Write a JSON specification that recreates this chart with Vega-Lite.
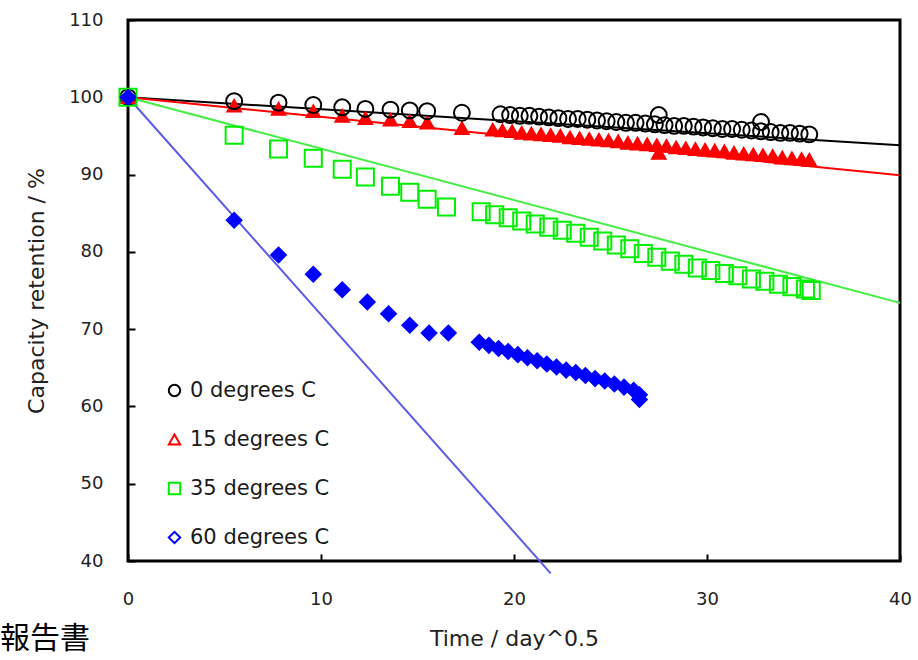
{
  "$schema": "https://vega.github.io/schema/vega-lite/v6.json",
  "width": 772,
  "height": 541,
  "autosize": {"type": "none"},
  "padding": {"left": 128, "top": 20, "right": 18, "bottom": 99},
  "background": "white",
  "config": {
    "view": {"stroke": "#000", "strokeWidth": 3},
    "font": "DejaVu Sans",
    "legend": {"symbolBaseFillColor": "transparent"},
    "axis": {
      "domain": false,
      "grid": false,
      "ticks": true,
      "tickSize": -7,
      "tickWidth": 2,
      "tickColor": "#000",
      "labelFont": "DejaVu Sans",
      "labelFontSize": 18,
      "labelColor": "#222",
      "labelFlush": false,
      "labelOverlap": false,
      "titleFont": "DejaVu Sans",
      "titleFontSize": 22,
      "titleFontWeight": "normal",
      "titleColor": "#222"
    }
  },
  "title": {
    "text": "報告書",
    "orient": "bottom",
    "anchor": "start",
    "frame": "group",
    "font": "Noto Sans CJK JP",
    "fontSize": 30,
    "fontWeight": "normal",
    "color": "#000",
    "dx": -128,
    "dy": -25,
    "offset": 0
  },
  "datasets": {
    "lines": [
      {"s": "0 degrees C", "x": 0, "y": 100}, {"s": "0 degrees C", "x": 40, "y": 93.8},
      {"s": "15 degrees C", "x": 0, "y": 100}, {"s": "15 degrees C", "x": 40, "y": 89.9},
      {"s": "35 degrees C", "x": 0, "y": 100}, {"s": "35 degrees C", "x": 40, "y": 73.4},
      {"s": "60 degrees C", "x": 0, "y": 100}, {"s": "60 degrees C", "x": 21.9, "y": 38.4}
    ],
    "pts": [
      {"s": "60 degrees C", "x": 5.5, "y": 84.1},
      {"s": "60 degrees C", "x": 7.8, "y": 79.6},
      {"s": "60 degrees C", "x": 9.6, "y": 77.1},
      {"s": "60 degrees C", "x": 11.1, "y": 75.1},
      {"s": "60 degrees C", "x": 12.4, "y": 73.5},
      {"s": "60 degrees C", "x": 13.5, "y": 72.0},
      {"s": "60 degrees C", "x": 14.6, "y": 70.5},
      {"s": "60 degrees C", "x": 15.6, "y": 69.5},
      {"s": "60 degrees C", "x": 16.6, "y": 69.5},
      {"s": "60 degrees C", "x": 18.2, "y": 68.3},
      {"s": "60 degrees C", "x": 18.7, "y": 67.9},
      {"s": "60 degrees C", "x": 19.2, "y": 67.5},
      {"s": "60 degrees C", "x": 19.7, "y": 67.1},
      {"s": "60 degrees C", "x": 20.2, "y": 66.7},
      {"s": "60 degrees C", "x": 20.7, "y": 66.3},
      {"s": "60 degrees C", "x": 21.2, "y": 65.9},
      {"s": "60 degrees C", "x": 21.7, "y": 65.5},
      {"s": "60 degrees C", "x": 22.2, "y": 65.1},
      {"s": "60 degrees C", "x": 22.7, "y": 64.7},
      {"s": "60 degrees C", "x": 23.2, "y": 64.4},
      {"s": "60 degrees C", "x": 23.7, "y": 64.0},
      {"s": "60 degrees C", "x": 24.2, "y": 63.6},
      {"s": "60 degrees C", "x": 24.7, "y": 63.3},
      {"s": "60 degrees C", "x": 25.2, "y": 62.9},
      {"s": "60 degrees C", "x": 25.7, "y": 62.5},
      {"s": "60 degrees C", "x": 26.2, "y": 62.1},
      {"s": "60 degrees C", "x": 26.5, "y": 61.5},
      {"s": "60 degrees C", "x": 26.5, "y": 60.9},
      {"s": "35 degrees C", "x": 5.5, "y": 95.1},
      {"s": "35 degrees C", "x": 7.8, "y": 93.3},
      {"s": "35 degrees C", "x": 9.6, "y": 92.1},
      {"s": "35 degrees C", "x": 11.1, "y": 90.7},
      {"s": "35 degrees C", "x": 12.3, "y": 89.7},
      {"s": "35 degrees C", "x": 13.6, "y": 88.5},
      {"s": "35 degrees C", "x": 14.6, "y": 87.7},
      {"s": "35 degrees C", "x": 15.5, "y": 86.8},
      {"s": "35 degrees C", "x": 16.5, "y": 85.8},
      {"s": "35 degrees C", "x": 18.3, "y": 85.2},
      {"s": "35 degrees C", "x": 19.0, "y": 84.8},
      {"s": "35 degrees C", "x": 19.7, "y": 84.4},
      {"s": "35 degrees C", "x": 20.4, "y": 84.0},
      {"s": "35 degrees C", "x": 21.1, "y": 83.6},
      {"s": "35 degrees C", "x": 21.8, "y": 83.2},
      {"s": "35 degrees C", "x": 22.5, "y": 82.8},
      {"s": "35 degrees C", "x": 23.2, "y": 82.4},
      {"s": "35 degrees C", "x": 23.9, "y": 81.9},
      {"s": "35 degrees C", "x": 24.6, "y": 81.4},
      {"s": "35 degrees C", "x": 25.3, "y": 80.9},
      {"s": "35 degrees C", "x": 26.0, "y": 80.4},
      {"s": "35 degrees C", "x": 26.7, "y": 79.8},
      {"s": "35 degrees C", "x": 27.4, "y": 79.3},
      {"s": "35 degrees C", "x": 28.1, "y": 78.8},
      {"s": "35 degrees C", "x": 28.8, "y": 78.4},
      {"s": "35 degrees C", "x": 29.5, "y": 77.9},
      {"s": "35 degrees C", "x": 30.2, "y": 77.6},
      {"s": "35 degrees C", "x": 30.9, "y": 77.2},
      {"s": "35 degrees C", "x": 31.6, "y": 76.9},
      {"s": "35 degrees C", "x": 32.3, "y": 76.5},
      {"s": "35 degrees C", "x": 33.0, "y": 76.2},
      {"s": "35 degrees C", "x": 33.7, "y": 75.8},
      {"s": "35 degrees C", "x": 34.4, "y": 75.5},
      {"s": "35 degrees C", "x": 35.1, "y": 75.2},
      {"s": "35 degrees C", "x": 35.4, "y": 75.0},
      {"s": "15 degrees C", "x": 5.5, "y": 98.9},
      {"s": "15 degrees C", "x": 7.8, "y": 98.5},
      {"s": "15 degrees C", "x": 9.6, "y": 98.2},
      {"s": "15 degrees C", "x": 11.1, "y": 97.6},
      {"s": "15 degrees C", "x": 12.3, "y": 97.3},
      {"s": "15 degrees C", "x": 13.6, "y": 97.1},
      {"s": "15 degrees C", "x": 14.6, "y": 96.9},
      {"s": "15 degrees C", "x": 15.5, "y": 96.7},
      {"s": "15 degrees C", "x": 17.3, "y": 96.0},
      {"s": "15 degrees C", "x": 18.9, "y": 95.8},
      {"s": "15 degrees C", "x": 19.4, "y": 95.7},
      {"s": "15 degrees C", "x": 19.9, "y": 95.6},
      {"s": "15 degrees C", "x": 20.4, "y": 95.4},
      {"s": "15 degrees C", "x": 20.9, "y": 95.3},
      {"s": "15 degrees C", "x": 21.4, "y": 95.2},
      {"s": "15 degrees C", "x": 21.9, "y": 95.1},
      {"s": "15 degrees C", "x": 22.4, "y": 95.0},
      {"s": "15 degrees C", "x": 22.9, "y": 94.8},
      {"s": "15 degrees C", "x": 23.4, "y": 94.7},
      {"s": "15 degrees C", "x": 23.9, "y": 94.6},
      {"s": "15 degrees C", "x": 24.4, "y": 94.5},
      {"s": "15 degrees C", "x": 24.9, "y": 94.4},
      {"s": "15 degrees C", "x": 25.4, "y": 94.3},
      {"s": "15 degrees C", "x": 25.9, "y": 94.1},
      {"s": "15 degrees C", "x": 26.4, "y": 94.0},
      {"s": "15 degrees C", "x": 26.9, "y": 93.9},
      {"s": "15 degrees C", "x": 27.4, "y": 93.8},
      {"s": "15 degrees C", "x": 27.5, "y": 92.8},
      {"s": "15 degrees C", "x": 27.9, "y": 93.7},
      {"s": "15 degrees C", "x": 28.4, "y": 93.5},
      {"s": "15 degrees C", "x": 28.9, "y": 93.4},
      {"s": "15 degrees C", "x": 29.4, "y": 93.3},
      {"s": "15 degrees C", "x": 29.9, "y": 93.2},
      {"s": "15 degrees C", "x": 30.4, "y": 93.1},
      {"s": "15 degrees C", "x": 30.9, "y": 93.0},
      {"s": "15 degrees C", "x": 31.4, "y": 92.8},
      {"s": "15 degrees C", "x": 31.9, "y": 92.7},
      {"s": "15 degrees C", "x": 32.4, "y": 92.6},
      {"s": "15 degrees C", "x": 32.9, "y": 92.5},
      {"s": "15 degrees C", "x": 33.4, "y": 92.4},
      {"s": "15 degrees C", "x": 33.9, "y": 92.2},
      {"s": "15 degrees C", "x": 34.4, "y": 92.1},
      {"s": "15 degrees C", "x": 34.9, "y": 92.0},
      {"s": "15 degrees C", "x": 35.3, "y": 91.9},
      {"s": "0 degrees C", "x": 5.5, "y": 99.5},
      {"s": "0 degrees C", "x": 7.8, "y": 99.3},
      {"s": "0 degrees C", "x": 9.6, "y": 99.0},
      {"s": "0 degrees C", "x": 11.1, "y": 98.7},
      {"s": "0 degrees C", "x": 12.3, "y": 98.5},
      {"s": "0 degrees C", "x": 13.6, "y": 98.4},
      {"s": "0 degrees C", "x": 14.6, "y": 98.3},
      {"s": "0 degrees C", "x": 15.5, "y": 98.2},
      {"s": "0 degrees C", "x": 17.3, "y": 98.0},
      {"s": "0 degrees C", "x": 19.3, "y": 97.8},
      {"s": "0 degrees C", "x": 19.8, "y": 97.7},
      {"s": "0 degrees C", "x": 20.3, "y": 97.6},
      {"s": "0 degrees C", "x": 20.8, "y": 97.6},
      {"s": "0 degrees C", "x": 21.3, "y": 97.5},
      {"s": "0 degrees C", "x": 21.8, "y": 97.4},
      {"s": "0 degrees C", "x": 22.3, "y": 97.3},
      {"s": "0 degrees C", "x": 22.8, "y": 97.2},
      {"s": "0 degrees C", "x": 23.3, "y": 97.2},
      {"s": "0 degrees C", "x": 23.8, "y": 97.1},
      {"s": "0 degrees C", "x": 24.3, "y": 97.0},
      {"s": "0 degrees C", "x": 24.8, "y": 96.9},
      {"s": "0 degrees C", "x": 25.3, "y": 96.8},
      {"s": "0 degrees C", "x": 25.8, "y": 96.7},
      {"s": "0 degrees C", "x": 26.3, "y": 96.7},
      {"s": "0 degrees C", "x": 26.8, "y": 96.6},
      {"s": "0 degrees C", "x": 27.3, "y": 96.5},
      {"s": "0 degrees C", "x": 27.5, "y": 97.7},
      {"s": "0 degrees C", "x": 27.8, "y": 96.4},
      {"s": "0 degrees C", "x": 28.3, "y": 96.3},
      {"s": "0 degrees C", "x": 28.8, "y": 96.3},
      {"s": "0 degrees C", "x": 29.3, "y": 96.2},
      {"s": "0 degrees C", "x": 29.8, "y": 96.1},
      {"s": "0 degrees C", "x": 30.3, "y": 96.0},
      {"s": "0 degrees C", "x": 30.8, "y": 95.9},
      {"s": "0 degrees C", "x": 31.3, "y": 95.9},
      {"s": "0 degrees C", "x": 31.8, "y": 95.8},
      {"s": "0 degrees C", "x": 32.3, "y": 95.7},
      {"s": "0 degrees C", "x": 32.8, "y": 95.6},
      {"s": "0 degrees C", "x": 32.8, "y": 96.8},
      {"s": "0 degrees C", "x": 33.3, "y": 95.5},
      {"s": "0 degrees C", "x": 33.8, "y": 95.4},
      {"s": "0 degrees C", "x": 34.3, "y": 95.4},
      {"s": "0 degrees C", "x": 34.8, "y": 95.3},
      {"s": "0 degrees C", "x": 35.3, "y": 95.2},
      {"s": "0 degrees C", "x": 0, "y": 100},
      {"s": "15 degrees C", "x": 0, "y": 100},
      {"s": "35 degrees C", "x": 0, "y": 100},
      {"s": "60 degrees C", "x": 0, "y": 100}
    ]
  },
  "encoding": {
    "x": {
      "field": "x",
      "type": "quantitative",
      "scale": {"domain": [0, 40], "nice": false, "zero": false},
      "axis": {"title": "Time / day^0.5", "values": [0, 10, 20, 30, 40], "labelPadding": 36, "titlePadding": 20}
    },
    "y": {
      "field": "y",
      "type": "quantitative",
      "scale": {"domain": [40, 110], "nice": false, "zero": false},
      "axis": {"title": "Capacity retention / %", "values": [40, 50, 60, 70, 80, 90, 100, 110], "labelPadding": 32, "titlePadding": 20}
    }
  },
  "layer": [
    {
      "data": {"name": "lines"},
      "mark": {"type": "line", "strokeWidth": 2},
      "encoding": {
        "color": {
          "field": "s",
          "type": "nominal",
          "scale": {
            "domain": ["60 degrees C", "35 degrees C", "15 degrees C", "0 degrees C"],
            "range": ["#5B5BE8", "#44EE44", "#FF0000", "#000000"]
          },
          "legend": null
        }
      }
    },
    {
      "data": {"name": "pts"},
      "mark": {"type": "point", "filled": false, "strokeWidth": 2, "opacity": 1},
      "encoding": {
        "stroke": {
          "field": "s",
          "type": "nominal",
          "scale": {
            "domain": ["0 degrees C", "15 degrees C", "35 degrees C", "60 degrees C"],
            "range": ["#000000", "#FF0000", "#00EE00", "#0000FF"]
          },
          "legend": {
            "title": null,
            "orient": "none",
            "legendX": 36,
            "legendY": 360,
            "labelFont": "DejaVu Sans",
            "labelFontSize": 21,
            "labelColor": "#1a1a1a",
            "labelOffset": 5,
            "symbolSize": 130,
            "symbolStrokeWidth": 2,
            "symbolFillColor": "transparent",
            "rowPadding": 27,
            "encode": {"symbols": {"update": {"fill": {"value": "transparent"}}}}
          }
        },
        "shape": {
          "field": "s",
          "type": "nominal",
          "scale": {
            "domain": ["0 degrees C", "15 degrees C", "35 degrees C", "60 degrees C"],
            "range": ["circle", "triangle-up", "square", "diamond"]
          }
        },
        "fill": {
          "field": "s",
          "type": "nominal",
          "scale": {
            "domain": ["15 degrees C", "60 degrees C", "0 degrees C", "35 degrees C"],
            "range": ["#FF0000", "#0000FF", "transparent", "transparent"]
          },
          "legend": null
        },
        "size": {
          "field": "s",
          "type": "nominal",
          "scale": {
            "domain": ["35 degrees C", "0 degrees C", "60 degrees C", "15 degrees C"],
            "range": [290, 180, 200, 290]
          },
          "legend": null
        }
      }
    }
  ]
}
